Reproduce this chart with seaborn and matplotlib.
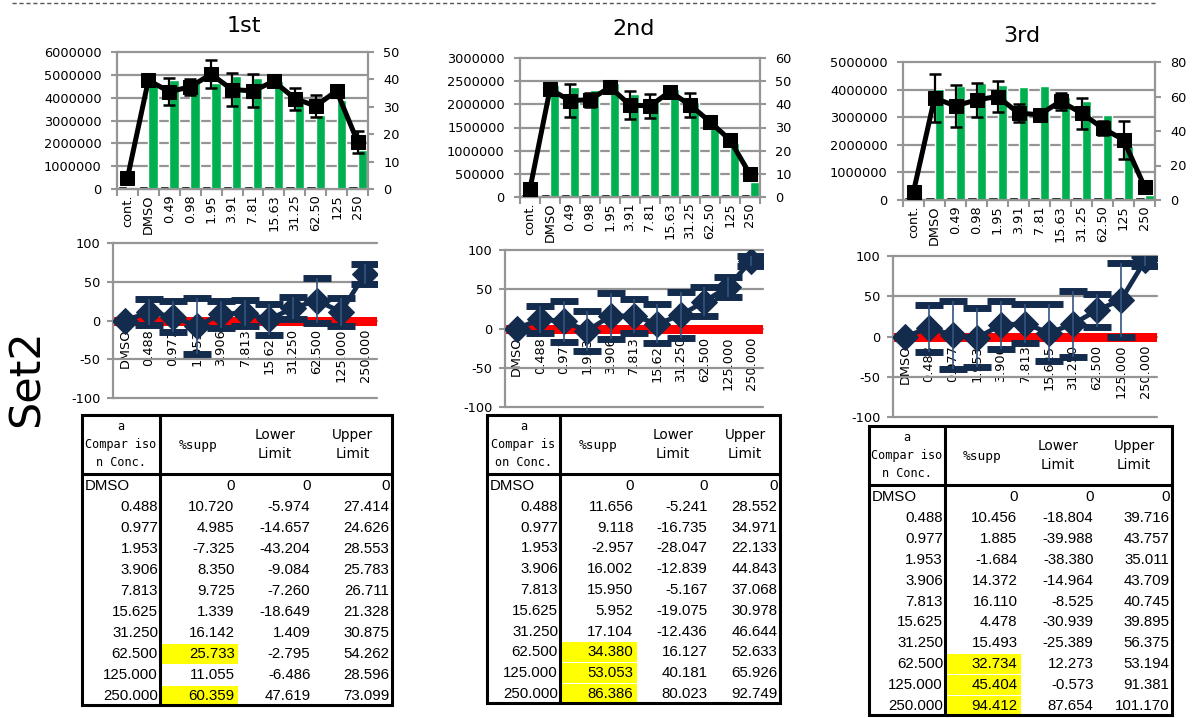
import numpy as np
import pandas as pd
import matplotlib
matplotlib.use("Agg")
import matplotlib.pyplot as plt
import seaborn as sns
from matplotlib.patches import Rectangle
from matplotlib.ticker import FuncFormatter

sns.set_theme(style="white")
plt.rcParams['font.family'] = ['DejaVu Sans']
plt.rcParams['axes.unicode_minus'] = False
plt.rcParams['text.color'] = 'black'
plt.rcParams['xtick.color'] = 'black'
plt.rcParams['ytick.color'] = 'black'
plt.rcParams['axes.labelcolor'] = 'black'

# ---------------- data ----------------
run_titles = ["1st", "2nd", "3rd"]
set_label = "Set2"
top_labels = ["cont.", "DMSO", "0.49", "0.98", "1.95", "3.91", "7.81",
              "15.63", "31.25", "62.50", "125", "250"]

# black small bars (left axis)
bg_1 = [150000, 150000, 140000, 140000, 140000, 140000, 140000, 140000, 140000, 140000, 80000, 140000]
bg_2 = [75000, 75000, 75000, 75000, 75000, 75000, 75000, 75000, 75000, 75000, 75000, 75000]
bg_3 = [120000, 120000, 120000, 120000, 120000, 120000, 120000, 120000, 120000, 120000, 120000, 120000]
# green bars (left axis)
cells_1 = [0, 4700000, 4780000, 4700000, 4650000, 4950000, 4850000, 4720000, 3900000, 3250000, 3880000, 1700000]
cells_2 = [0, 2420000, 2370000, 2300000, 2460000, 2230000, 2100000, 2330000, 2060000, 1550000, 1160000, 330000]
cells_3 = [0, 4020000, 4140000, 4240000, 4180000, 4090000, 4140000, 3750000, 3570000, 3090000, 1940000, 180000]
# black line (right axis) and its error
line_1 = [4.0, 39.7, 35.5, 37.3, 41.9, 36.3, 35.8, 39.3, 33.0, 30.3, 35.8, 17.3]
lerr_1 = [0.5, 1.0, 5.0, 3.0, 5.0, 6.0, 6.0, 1.0, 4.0, 4.0, 1.0, 4.0]
line_2 = [3.6, 46.5, 41.6, 42.0, 47.4, 39.7, 39.3, 45.5, 39.7, 32.5, 24.6, 9.8]
lerr_2 = [0.5, 2.0, 7.0, 3.0, 2.0, 6.0, 5.0, 2.0, 5.0, 2.0, 2.0, 2.0]
line_3 = [4.8, 59.0, 54.6, 58.0, 60.0, 50.4, 49.4, 57.2, 50.4, 41.7, 34.9, 7.8]
lerr_3 = [0.5, 14.0, 12.0, 10.0, 9.0, 5.0, 2.0, 5.0, 9.0, 4.0, 11.0, 2.0]

conc_labels = ["DMSO", "0.488", "0.977", "1.953", "3.906", "7.813", "15.625",
               "31.250", "62.500", "125.000", "250.000"]
supp_1 = [0, 10.720, 4.985, -7.325, 8.350, 9.725, 1.339, 16.142, 25.733, 11.055, 60.359]
lower_1 = [0, -5.974, -14.657, -43.204, -9.084, -7.260, -18.649, 1.409, -2.795, -6.486, 47.619]
upper_1 = [0, 27.414, 24.626, 28.553, 25.783, 26.711, 21.328, 30.875, 54.262, 28.596, 73.099]
supp_2 = [0, 11.656, 9.118, -2.957, 16.002, 15.950, 5.952, 17.104, 34.380, 53.053, 86.386]
lower_2 = [0, -5.241, -16.735, -28.047, -12.839, -5.167, -19.075, -12.436, 16.127, 40.181, 80.023]
upper_2 = [0, 28.552, 34.971, 22.133, 44.843, 37.068, 30.978, 46.644, 52.633, 65.926, 92.749]
supp_3 = [0, 10.456, 1.885, -1.684, 14.372, 16.110, 4.478, 15.493, 32.734, 45.404, 94.412]
lower_3 = [0, -18.804, -39.988, -38.380, -14.964, -8.525, -30.939, -25.389, 12.273, -0.573, 87.654]
upper_3 = [0, 39.716, 43.757, 35.011, 43.709, 40.745, 39.895, 56.375, 53.194, 91.381, 101.170]
marked_1 = ["62.500", "250.000"]
marked_2 = ["62.500", "125.000", "250.000"]
marked_3 = ["62.500", "125.000", "250.000"]
conc_headers = ["a\nCompar iso\nn Conc.", "a\nCompar is\non Conc.", "a\nCompar iso\nn Conc."]
col_headers = ["%supp", "Lower\nLimit", "Upper\nLimit"]

# ---------------- style ----------------
W, H = 1192, 718
GREEN = "#00B050"
NAVY = "#132B4C"
GRID = "#959595"
YELLOW = "#FFFF00"

fig = plt.figure(figsize=(W / 100, H / 100), dpi=100)
fig.patch.set_facecolor("white")


def px_axes(x0, y0, x1, y1):
    return fig.add_axes([x0 / W, 1 - y1 / H, (x1 - x0) / W, (y1 - y0) / H])


def draw_top(ax, bg, cells, line, lerr, lmax, lstep, rmax, rstep):
    n = len(top_labels)
    df = pd.DataFrame({
        "conc": top_labels * 2,
        "series": ["bg"] * n + ["cells"] * n,
        "value": list(bg) + list(cells),
    })
    sns.barplot(data=df, x="conc", y="value", hue="series", order=top_labels,
                hue_order=["bg", "cells"], palette={"bg": "black", "cells": GREEN},
                width=0.9, saturation=1, errorbar=None, legend=False, ax=ax,
                zorder=2)
    ax.set_xlabel("")
    ax.set_ylabel("")
    ax.set_ylim(0, lmax)
    ax.set_yticks(np.arange(0, lmax + 1, lstep))
    ax.yaxis.set_major_formatter(FuncFormatter(lambda v, p: f"{v:.0f}"))
    ax.grid(axis="y", color=GRID, lw=1.6)
    ax.grid(axis="x", visible=False)
    ax.set_axisbelow(True)
    for gl in ax.get_ygridlines():
        gl.set_clip_on(False)
    for s in ["top", "right"]:
        ax.spines[s].set_visible(False)
    for s in ["left", "bottom"]:
        ax.spines[s].set_color(GRID)
        ax.spines[s].set_linewidth(1.6)
    x = np.arange(n)
    ax.set_xticks(x)
    ax.set_xticklabels(top_labels, rotation=90, fontsize=9.3)
    ax.set_xticks(np.arange(-0.5, n, 1.0), minor=True)
    ax.tick_params(axis="x", which="major", length=0, pad=4, labelcolor="black")
    ax.tick_params(axis="x", which="minor", length=5, width=1.5, color=GRID, bottom=True)
    ax.tick_params(axis="y", length=4, width=1.5, color=GRID, labelsize=9.3, pad=7,
                   left=True, labelcolor="black")

    ax2 = ax.twinx()
    ax2.errorbar(x, line, yerr=lerr, fmt="none", ecolor="black", elinewidth=1.6,
                 capsize=4, capthick=1.8, zorder=3)
    sns.lineplot(x=x, y=line, ax=ax2, color="black", lw=3.6, marker="s",
                 markersize=10, markeredgecolor="black", zorder=4)
    ax2.set_ylim(0, rmax)
    ax2.set_yticks(np.arange(0, rmax + 1, rstep))
    ax2.grid(False)
    for s in ["top", "left", "bottom"]:
        ax2.spines[s].set_visible(False)
    ax2.spines["right"].set_color(GRID)
    ax2.spines["right"].set_linewidth(1.6)
    ax2.tick_params(axis="y", length=4, width=1.5, color=GRID, labelsize=9.3, pad=7,
                    right=True, labelcolor="black")
    ax2.set_ylabel("")
    ax.set_xlim(-0.5, n - 0.5)


def draw_mid(ax, supp, lower, upper):
    n = len(conc_labels)
    x = np.arange(n)
    s = np.asarray(supp, float)
    lo = np.asarray(lower, float)
    up = np.asarray(upper, float)
    has = (up - lo) > 0
    ax.axhline(0, color="#FF0000", lw=6.5, zorder=1.5)
    ax.errorbar(x[has], s[has], yerr=[s[has] - lo[has], up[has] - s[has]], fmt="none",
                ecolor=NAVY, elinewidth=0, capsize=10, capthick=5, zorder=3)
    sns.lineplot(x=x, y=s, ax=ax, color=NAVY, lw=3.4, marker="D", markersize=13,
                 markeredgecolor=NAVY, zorder=3.5)
    ax.errorbar(x[has], s[has], yerr=[s[has] - lo[has], up[has] - s[has]], fmt="none",
                ecolor="#34547F", elinewidth=1.2, capsize=0, zorder=4)
    ax.set_xlim(-0.5, n - 0.5)
    ax.set_ylim(-100, 100)
    ax.set_yticks([-100, -50, 0, 50, 100])
    ax.grid(axis="y", color=GRID, lw=1.6)
    ax.grid(axis="x", visible=False)
    ax.set_axisbelow(True)
    for gl in ax.get_ygridlines():
        gl.set_clip_on(False)
    for sp in ["top", "right"]:
        ax.spines[sp].set_visible(False)
    ax.spines["left"].set_color(GRID)
    ax.spines["left"].set_linewidth(1.6)
    ax.spines["bottom"].set_position(("data", 0))
    ax.spines["bottom"].set_color("none")
    ax.set_xticks(x)
    ax.set_xticklabels(conc_labels, rotation=90, fontsize=9.3)
    ax.tick_params(axis="x", length=0, pad=6, labelcolor="black")
    ax.tick_params(axis="y", length=4, width=1.5, color=GRID, labelsize=9.3, pad=5,
                   left=True, labelcolor="black")
    ax.set_xlabel("")
    ax.set_ylabel("")


def fmt(v):
    return "0" if v == 0 else f"{v:.3f}"


def draw_table(ov, edges, top, head_bot, bottom, conc_head, supp, lower, upper, marks):
    x0, x1, x2, x3, x4 = edges
    n = len(conc_labels)
    rh = (bottom - head_bot) / n
    for i, c in enumerate(conc_labels):
        yc = head_bot + (i + 0.5) * rh + 1.5
        if c in marks:
            ov.add_patch(Rectangle((x1 + 1.5, yc - rh / 2), x2 - x1 - 1, rh - 1,
                                   facecolor=YELLOW, edgecolor="none", zorder=1))
        if i == 0:
            ov.text(x0 + 3, yc, c, ha="left", va="center", fontsize=10.8,
                    family="Liberation Sans", zorder=3)
        else:
            ov.text(x1 - 2, yc, c, ha="right", va="center", fontsize=10.8,
                    family="Liberation Sans", zorder=3)
        for xr, vals in ((x2, supp), (x3, lower), (x4, upper)):
            ov.text(xr - 2.5, yc, fmt(vals[i]), ha="right", va="center", fontsize=10.8,
                    family="Liberation Sans", zorder=3)
    hy = (top + head_bot) / 2
    ov.text((x0 + x1) / 2, hy, conc_head, ha="center", va="center", fontsize=8.6,
            family="DejaVu Sans Mono", linespacing=1.5, zorder=3)
    ov.text((x1 + x2) / 2, hy + 1, col_headers[0], ha="center", va="center", fontsize=9.3,
            family="DejaVu Sans Mono", zorder=3)
    ov.text((x2 + x3) / 2, hy, col_headers[1], ha="center", va="center", fontsize=9.8,
            family="DejaVu Sans", linespacing=1.45, zorder=3)
    ov.text((x3 + x4) / 2, hy, col_headers[2], ha="center", va="center", fontsize=9.8,
            family="DejaVu Sans", linespacing=1.45, zorder=3)
    ov.add_patch(Rectangle((x0, top), x4 - x0, bottom - top, fill=False,
                           edgecolor="black", lw=2.2, zorder=4))
    ov.plot([x0, x4], [head_bot, head_bot], color="black", lw=2.2, zorder=4)
    ov.plot([x1, x1], [top, bottom], color="black", lw=2.2, zorder=4)


# ---------------- panels ----------------
top_boxes = [(117, 52, 368, 189), (520, 58, 760, 197), (903, 62, 1155, 200)]
mid_boxes = [(113, 243, 377, 398), (505, 250, 763, 407), (893, 256, 1157, 417)]
top_data = [(bg_1, cells_1, line_1, lerr_1, 6000000, 1000000, 50, 10),
            (bg_2, cells_2, line_2, lerr_2, 3000000, 500000, 60, 10),
            (bg_3, cells_3, line_3, lerr_3, 5000000, 1000000, 80, 20)]
mid_data = [(supp_1, lower_1, upper_1), (supp_2, lower_2, upper_2), (supp_3, lower_3, upper_3)]

for box, d in zip(top_boxes, top_data):
    draw_top(px_axes(*box), *d)
for box, d in zip(mid_boxes, mid_data):
    draw_mid(px_axes(*box), *d)

ov = fig.add_axes([0, 0, 1, 1])
ov.set_xlim(0, W)
ov.set_ylim(H, 0)
ov.axis("off")
ov.patch.set_alpha(0)

table_geo = [([82, 160, 237, 313, 392], 415, 474, 705),
             ([487, 560, 636, 710, 780], 415, 474, 703),
             ([869, 945, 1020, 1096, 1172], 426, 485, 715)]
marks = [marked_1, marked_2, marked_3]
for k, (geo, d) in enumerate(zip(table_geo, mid_data)):
    edges, top, hb, bot = geo
    draw_table(ov, edges, top, hb, bot, conc_headers[k], *d, marks[k])

# titles, side label, dashed separator
title_pos = [(244, 26), (634, 29), (1022, 36)]
for t, (tx, ty) in zip(run_titles, title_pos):
    ov.text(tx, ty, t, ha="center", va="center", fontsize=16, color="black")
ov.text(27, 378, set_label, ha="center", va="center", rotation=90, fontsize=31, color="black")
ov.plot([12, 1155], [3, 3], color="#555555", lw=1.0, linestyle=(0, (3, 2)))

fig.savefig("out.png", dpi=100, facecolor="white")
